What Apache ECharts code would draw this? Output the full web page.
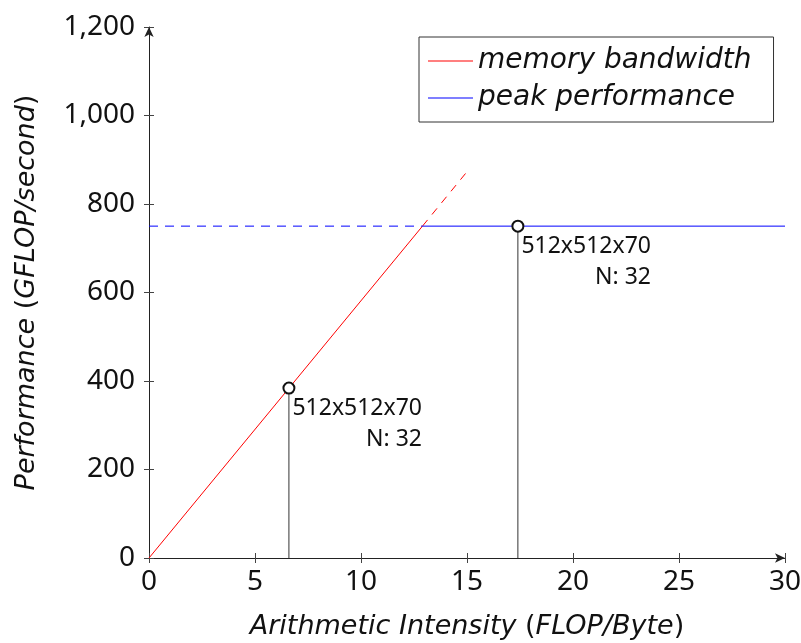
<!DOCTYPE html>
<html>
<head>
<meta charset="utf-8">
<script src="https://cdn.jsdelivr.net/npm/echarts@6/dist/echarts.min.js"></script>
<style>html,body{margin:0;padding:0;background:#fff}#c{width:801px;height:643px}</style>
</head>
<body>
<div id="c"></div>
<script>
// Roofline values
const memoryX = [0, 12.9];          // solid part of memory-bandwidth roof
const memoryY = [0, 750];
const memoryDashX = [12.9, 15];     // dashed continuation
const memoryDashY = [750, 873];
const peakDashX = [0, 12.9];
const peakDashY = [750, 750];
const peakX = [12.9, 30];
const peakY = [750, 750];
const pointX = [6.6, 17.4];
const pointY = [384, 750];
const pointLabelTop = ['512x512x70', '512x512x70'];
const pointLabelBottom = ['N: 32', 'N: 32'];
const xTicks = [0, 5, 10, 15, 20, 25, 30];
const yTicks = [0, 200, 400, 600, 800, 1000, 1200];

const zip = (xs, ys) => xs.map((x, i) => [x, ys[i]]);
const FONT = 'Noto Sans';
const WIDE = 'DejaVu Sans';

const chart = echarts.init(document.getElementById('c'), null, {renderer: 'canvas'});

const dropSeries = pointX.map((x, i) => ({
  type: 'line', name: 'drop' + i, symbol: 'none', silent: true,
  data: [[x, 0], [x, pointY[i]]],
  lineStyle: {color: '#333', width: 1}, z: 2
}));

const nameRich = {
  i: {fontFamily: WIDE, fontSize: 27, fontStyle: 'italic', color: '#111'},
  n: {fontFamily: WIDE, fontSize: 27, color: '#111'}
};

chart.setOption({
  animation: false,
  textStyle: {fontFamily: FONT, color: '#111'},
  grid: {left: 149, right: 16, top: 27, bottom: 85, containLabel: false, outerBoundsMode: 'none'},
  legend: {
    orient: 'vertical', left: 419, top: 37,
    data: [{name: 'memory bandwidth', icon: 'rect'}, {name: 'peak performance', icon: 'rect'}],
    borderColor: '#333', borderWidth: 1, backgroundColor: '#fff',
    padding: [9, 22, 9, 9], itemGap: 7, itemWidth: 45, itemHeight: 1,
    textStyle: {fontFamily: WIDE, fontSize: 28, fontStyle: 'italic', color: '#111', lineHeight: 30}
  },
  xAxis: [{
    type: 'value', min: xTicks[0], max: xTicks[xTicks.length - 1], interval: 5,
    name: '{i|Arithmetic Intensity }{n|(}{i|FLOP/Byte}{n|)}',
    nameLocation: 'middle', nameGap: 55,
    nameTextStyle: {rich: nameRich},
    axisLine: {show: true, onZero: false, lineStyle: {color: '#222', width: 1}, symbol: ['none', 'arrow'], symbolSize: [7, 10]},
    axisTick: {show: true, length: 5, lineStyle: {color: '#444'}},
    axisLabel: {fontFamily: FONT, fontSize: 28, color: '#111', margin: 10},
    splitLine: {show: false}
  }, {
    type: 'value', min: 0, max: 30, interval: 5, position: 'bottom',
    axisLine: {show: false}, axisLabel: {show: false}, splitLine: {show: false},
    axisTick: {show: true, inside: true, length: 5, lineStyle: {color: '#444'}}
  }],
  yAxis: [{
    type: 'value', min: yTicks[0], max: yTicks[yTicks.length - 1], interval: 200,
    name: '{i|Performance }{n|(}{i|GFLOP/second}{n|)}',
    nameLocation: 'middle', nameGap: 109,
    nameTextStyle: {rich: nameRich},
    axisLine: {show: true, onZero: false, lineStyle: {color: '#222', width: 1}, symbol: ['none', 'arrow'], symbolSize: [7, 10]},
    axisTick: {show: true, length: 5, lineStyle: {color: '#444'}},
    axisLabel: {fontFamily: FONT, fontSize: 28, color: '#111', margin: 14,
      formatter: v => v.toLocaleString('en-US')},
    splitLine: {show: false}
  }, {
    type: 'value', min: 0, max: 1200, interval: 200, position: 'left',
    axisLine: {show: false}, axisLabel: {show: false}, splitLine: {show: false},
    axisTick: {show: true, inside: true, length: 5, lineStyle: {color: '#444'}}
  }],
  series: [
    ...dropSeries,
    {type: 'line', name: 'memory bandwidth', symbol: 'none', data: zip(memoryX, memoryY),
     lineStyle: {color: '#ff0000', width: 1}, itemStyle: {color: '#ff0000'}, z: 3},
    {type: 'line', name: 'memory bandwidth (ext)', symbol: 'none', data: zip(memoryDashX, memoryDashY),
     lineStyle: {color: '#ff0000', width: 1, type: [8, 7]}, z: 3},
    {type: 'line', name: 'peak performance (ext)', symbol: 'none', data: zip(peakDashX, peakDashY),
     lineStyle: {color: '#0000ff', width: 1, type: [9, 7]}, z: 3},
    {type: 'line', name: 'peak performance', symbol: 'none', data: zip(peakX, peakY),
     lineStyle: {color: '#0000ff', width: 1}, itemStyle: {color: '#0000ff'}, z: 3},
    {type: 'scatter', name: 'points', symbol: 'emptyCircle', symbolSize: 11,
     itemStyle: {color: '#111', borderColor: '#111', borderWidth: 1, opacity: 1}, z: 5,
     data: zip(pointX, pointY).map((p, i) => ({value: p, top: pointLabelTop[i], bottom: pointLabelBottom[i]})),
     label: {show: true, position: [10, 11], color: '#111', textBorderWidth: 0,
       formatter: p => '{a|' + p.data.top + '}\n{b|' + p.data.bottom + '}',
       rich: {
         a: {fontFamily: FONT, fontSize: 23, color: '#111', lineHeight: 31, align: 'left', textBorderWidth: 0},
         b: {fontFamily: FONT, fontSize: 23, color: '#111', lineHeight: 31, align: 'right', textBorderWidth: 0}
       }}
    }
  ]
});
</script>
</body>
</html>
